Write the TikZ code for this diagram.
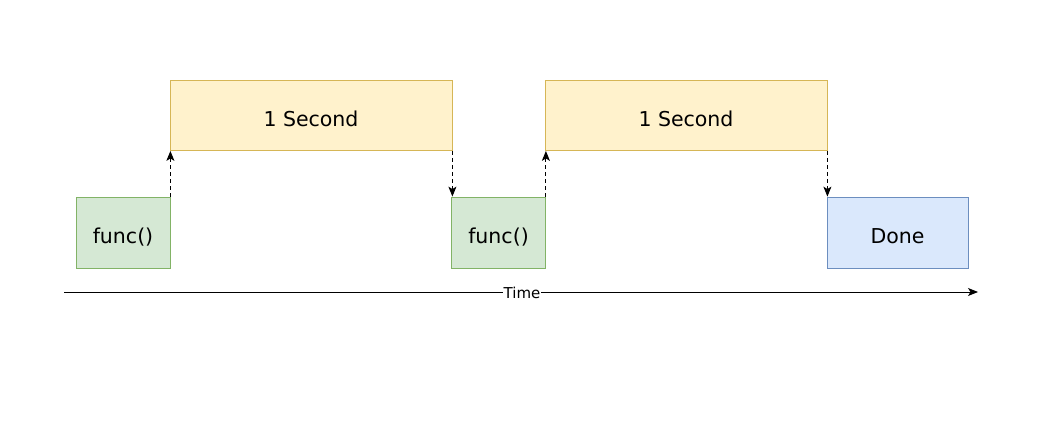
\documentclass[tikz,border=0pt]{standalone}
\usepackage{fontspec}
\setmainfont{DejaVu Sans}
\usetikzlibrary{arrows.meta}
\begin{document}
\begin{tikzpicture}[x=1pt,y=-1pt,
  boxtext/.style={inner sep=0pt,line width=0.8pt,text height=21pt,text depth=0pt,font=\fontsize{20.5}{22}\selectfont},
  callbox/.style={boxtext,fill=callfill,draw=calldraw,minimum width=94pt,minimum height=71pt},
  waitbox/.style={boxtext,fill=waitfill,draw=waitdraw,minimum width=282pt,minimum height=70pt},
  donebox/.style={boxtext,fill=donefill,draw=donedraw,minimum width=141pt,minimum height=71pt},
  hop/.style={dash pattern=on 4pt off 3pt,line width=1pt,-{Stealth[length=10pt,width=8pt,inset=2.5pt]}}]
\useasboundingbox (0,0) rectangle (1060,428);
\definecolor{callfill}{HTML}{D5E8D4}
\definecolor{calldraw}{HTML}{82B366}
\definecolor{waitfill}{HTML}{FFF2CC}
\definecolor{waitdraw}{HTML}{D6B656}
\definecolor{donefill}{HTML}{DAE8FC}
\definecolor{donedraw}{HTML}{6C8EBF}
\node[callbox] (func1) at (123,232.5) {func()};
\node[waitbox] (sec1) at (311,115.5) {1 Second};
\node[callbox] (func2) at (498.5,232.5) {func()};
\node[waitbox] (sec2) at (686,115.5) {1 Second};
\node[donebox] (done) at (897.5,232.5) {Done};
\draw[hop] (func1.north east) -- (func1.north east |- sec1.south);
\draw[hop] (sec1.south east) -- (sec1.south east |- func2.north);
\draw[hop] (func2.north east) -- (func2.north east |- sec2.south);
\draw[hop] (sec2.south east) -- (sec2.south east |- done.north);
% time axis
\coordinate (t0) at (64,292);
\coordinate (t1) at (978,292);
\draw[line width=1pt,-{Stealth[length=10pt,width=8pt,inset=2.5pt]}] (t0) -- (t1);
\node[fill=white,inner sep=1pt,font=\fontsize{15}{16}\selectfont] (time) at (522,293) {Time};
\end{tikzpicture}
\end{document}
